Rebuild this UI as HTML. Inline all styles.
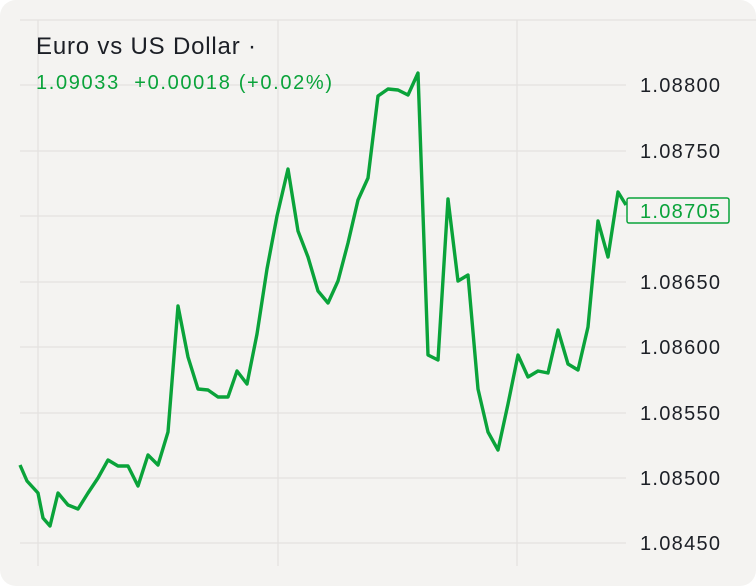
<!DOCTYPE html>
<html><head><meta charset="utf-8"><style>
html,body{margin:0;padding:0;background:#fff;}
.card{position:absolute;left:0;top:0;width:756px;height:586px;background:#f4f3f1;border-radius:16px;overflow:hidden;font-family:"Liberation Sans",sans-serif;}
</style></head><body>
<div class="card">
<svg width="756" height="586" style="position:absolute;left:0;top:0">
<g stroke="#e4e2df" stroke-width="1.2">
<line x1="20" y1="20" x2="756" y2="20"/>
<line x1="20" y1="85" x2="626" y2="85"/>
<line x1="20" y1="151" x2="626" y2="151"/>
<line x1="20" y1="216" x2="626" y2="216"/>
<line x1="20" y1="282" x2="626" y2="282"/>
<line x1="20" y1="347" x2="626" y2="347"/>
<line x1="20" y1="413" x2="626" y2="413"/>
<line x1="20" y1="478" x2="626" y2="478"/>
<line x1="20" y1="543" x2="626" y2="543"/>
<line x1="38" y1="20" x2="38" y2="566"/>
<line x1="278" y1="20" x2="278" y2="566"/>
<line x1="517" y1="20" x2="517" y2="566"/>
</g>
<polyline fill="none" stroke="#0aa33a" stroke-width="3.4" stroke-linejoin="round" points="20,465 27,481 38,493 43,518 50,526 58,493 68,505 78,509 88,493 98,478 108,460 118,466 128,466 138,486 148,455 158,465 168,432 178,306 188,357 198,389 208,390 218,397 228,397 237,371 247,384 257,334 267,269 277,216 288,169 298,231 308,257 318,291 328,303 338,281 348,243 358,200 368,178 378,96 388,89 398,90 408,95 418,73 428,355 438,360 448,199 458,281 468,275 478,389 488,432 498,450 508,404 518,355 528,377 538,371 548,373 558,330 568,364 578,370 588,327 598,221 608,257 618,192 626,205"/>
<rect x="627" y="198" width="102" height="25" rx="2" fill="#f4f3f1" stroke="#0aa33a" stroke-width="1.5"/>
<g font-family="Liberation Sans, sans-serif" font-size="20" fill="#1c1f26">
<text x="640" y="92" textLength="80">1.08800</text>
<text x="640" y="158" textLength="80">1.08750</text>
<text x="640" y="289" textLength="80">1.08650</text>
<text x="640" y="354" textLength="80">1.08600</text>
<text x="640" y="420" textLength="80">1.08550</text>
<text x="640" y="485" textLength="80">1.08500</text>
<text x="640" y="550" textLength="80">1.08450</text>
<text x="640" y="218" fill="#0aa33a" textLength="80">1.08705</text>
</g>
<text x="36" y="54" font-family="Liberation Sans, sans-serif" font-size="24" fill="#1c1f26" textLength="220">Euro vs US Dollar ·</text>
<text x="36" y="89" font-family="Liberation Sans, sans-serif" font-size="20" fill="#0aa33a" textLength="296" xml:space="preserve">1.09033  +0.00018 (+0.02%)</text>
</svg>
</div>
</body></html>
